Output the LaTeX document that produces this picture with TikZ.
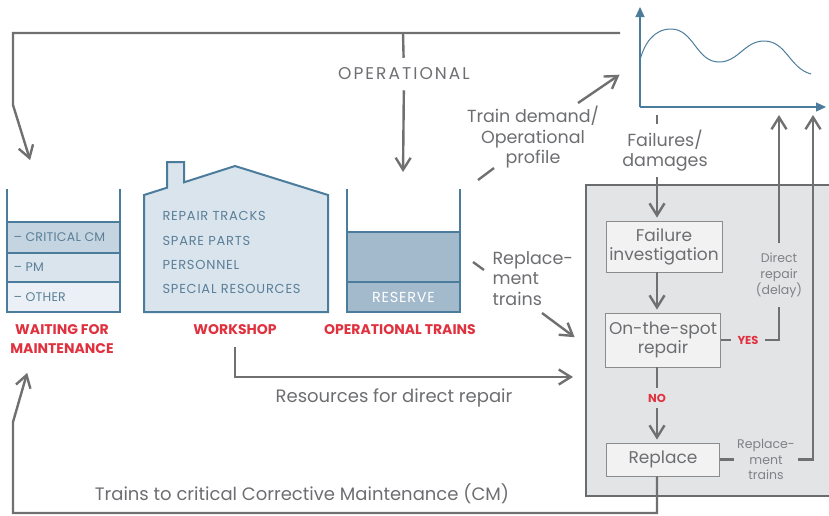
\documentclass[tikz,border=0pt]{standalone}
\usepackage{fontspec}
\setmainfont{Poppins}
\usetikzlibrary{calc}
\usetikzlibrary{positioning}
\usetikzlibrary{arrows.meta}

\definecolor{linegray}{HTML}{707070}
\definecolor{txtgray}{HTML}{6D6E71}
\definecolor{lightgray}{HTML}{808184}
\definecolor{steel}{HTML}{4B7C9B}
\definecolor{steeltxt}{HTML}{5B7F98}
\definecolor{housefill}{HTML}{D9E4ED}
\definecolor{critfill}{HTML}{C4D4E0}
\definecolor{pmfill}{HTML}{D9E4ED}
\definecolor{othfill}{HTML}{EAF0F5}
\definecolor{optrfill}{HTML}{A3B9CC}
\definecolor{alertred}{HTML}{E0313F}
\definecolor{panelfill}{HTML}{E3E4E5}
\definecolor{panelline}{HTML}{6B6C6E}
\definecolor{boxfill}{HTML}{F2F2F2}
\definecolor{boxline}{HTML}{8C8C8C}

\begin{document}
\begin{tikzpicture}[x=1pt, y=-1pt,
    gline/.style={draw=linegray, line width=2.4pt},
    flow/.style={gline, -{Straight Barb[length=12pt, width=15pt]}, shorten >=3pt},
    lbl/.style={text=txtgray, align=center, font=\fontsize{17.5}{20.5}\selectfont},
    small/.style={text=lightgray, align=center, font=\fontsize{12.5}{16}\selectfont},
    caps/.style={text=steeltxt, anchor=west, font=\fontsize{13}{15}\selectfont\addfontfeature{LetterSpace=6}},
    bandtxt/.style={caps, font=\fontsize{12.5}{15}\selectfont\addfontfeature{LetterSpace=2}},
    redlbl/.style={text=alertred, align=center, font=\fontsize{14}{19}\selectfont\bfseries},
    procbox/.style={rectangle, draw=boxline, fill=boxfill, line width=0.8pt, minimum width=113pt, align=center, text=txtgray, font=\fontsize{17}{19}\selectfont},
    wall/.style={draw=steel, line width=2pt},
    axis/.style={draw=steel, line width=1.2pt, -{Triangle[length=10pt, width=9pt]}}]
    \useasboundingbox (0,0) rectangle (829,515);

    % waiting for maintenance
    \foreach \ya/\yb/\fc/\txt [count=\i] in {222/253/critfill/{-- CRITICAL CM}, 253/282/pmfill/{-- PM}, 282/312/othfill/{-- OTHER}}
    {
        \fill[\fc] (7,\ya) rectangle (120,\yb);
        \draw[wall] (7,\ya) -- (120,\ya);
        \node[bandtxt] (band\i) at (10,{(\ya+\yb)/2}) {\txt};
    }
    \draw[wall] (7,189) -- (7,312) -- (120,312) -- (120,189);
    \node[redlbl] (waitlbl) at (62,339.5) {WAITING FOR\\MAINTENANCE};

    % workshop
    \draw[wall, fill=housefill] (144,312) -- (144,195) -- (167,187.7) -- (167,162) -- (184,162)
        -- (184,182.3) -- (235,166) -- (328,195) -- (328,312) -- cycle;
    \foreach \txt [count=\i] in {REPAIR TRACKS, SPARE PARTS, PERSONNEL, SPECIAL RESOURCES}
        \node[caps] (shop\i) at (159,{192+24.3*\i}) {\txt};
    \node[redlbl] (shoplbl) at (235,330) {WORKSHOP};

    % operational trains
    \fill[optrfill] (347,232) rectangle (460,312);
    \draw[wall] (347,189) -- (347,312) -- (460,312) -- (460,189);
    \draw[wall] (347,232) -- (460,232);
    \draw[wall] (347,282) -- (460,282);
    \node[text=white, font=\fontsize{14.5}{15}\selectfont\addfontfeature{LetterSpace=5}] (reserve) at (403.5,297) {RESERVE};
    \node[redlbl] (optrlbl) at (400,330) {OPERATIONAL TRAINS};

    % profile chart
    \coordinate (org) at (640,107);
    \draw[axis] (org) -- (640,7);
    \draw[axis] (org) -- (826,107);
    \draw[steel, line width=1pt] (640,60) to[out=75, in=180] (671,29) to[out=0, in=180] (719,62)
        to[out=0, in=180] (764,41) to[out=0, in=165] (811,74);

    % repair panel
    \draw[panelline, fill=panelfill, line width=2.5pt] (586,185) rectangle (845,496);
    \coordinate (col) at (657,0);
    \node[procbox, minimum height=51pt] (fi) at (664,246.5) {Failure\\investigation};
    \node[procbox, minimum height=54pt] (osr) at (663,340) {On-the-spot\\repair};
    \node[procbox, minimum height=33pt] (repl) at (663,459.5) {Replace};
    \node[redlbl, inner sep=6pt, font=\fontsize{11.5}{13}\selectfont\bfseries] (yes) at (748,340) {YES};
    \node[redlbl, inner sep=6pt, font=\fontsize{11.5}{13}\selectfont\bfseries] (no) at (657,398) {NO};
    \node[small, inner ysep=9pt] (direct) at (779,275) {Direct\\repair\\(delay)};
    \node[small, font=\fontsize{12.5}{15.5}\selectfont] (rtr) at (766,459.5) {Replace-\\ment\\trains};

    % labels
    \node[lbl, inner ysep=10pt, font=\fontsize{17}{20}\selectfont\addfontfeature{LetterSpace=12}] (oper) at (404,74) {OPERATIONAL};
    \node[lbl] (demand) at (533,137.5) {Train demand/\\Operational\\profile};
    \node[lbl, align=left, anchor=west] (repltxt) at (489,278.5) {Replace-\\ment\\trains};
    \node[lbl, font=\fontsize{17.5}{20}\selectfont] (fail) at (665,151) {Failures/\\damages};
    \node[lbl, font=\fontsize{18}{20}\selectfont] (res) at (394,398) {Resources for direct repair};
    \node[lbl, font=\fontsize{18}{20}\selectfont] (cmtxt) at (302,494) {Trains to critical Corrective Maintenance (CM)};

    % connector ends
    \coordinate (topR) at (620,33);
    \coordinate (topL) at (13,33);
    \coordinate (bendL) at (13,105);
    \coordinate (waitIn) at (31,163);
    \coordinate (operA) at (403,33);
    \coordinate (optrIn) at (403,175);
    \coordinate (demA) at (478,180);
    \coordinate (demB) at (494,168);
    \coordinate (demC) at (578,103);
    \coordinate (demD) at (622,73);
    \coordinate (rpA) at (473,262);
    \coordinate (rpB) at (484,270);
    \coordinate (rpC) at (542,313);
    \coordinate (rpD) at (577,339);
    \coordinate (failA) at (657,115);
    \coordinate (failB) at (657,124);
    \coordinate (failC) at (657,177);
    \coordinate (resA) at (235,347);
    \coordinate (resB) at (576,377);
    \coordinate (botL) at (13,513);
    \coordinate (bendB) at (13,422);
    \coordinate (waitOut) at (28,370);
    \coordinate (upA) at (779,112);
    \coordinate (upB) at (813,112);

    % connectors
    \draw[flow] (topR) -- (topL) -- (bendL) -- (waitIn);
    \draw[gline] (operA) -- (oper);
    \draw[flow] (oper) -- (optrIn);
    \draw[gline] (demA) -- (demB);
    \draw[flow] (demC) -- (demD);
    \draw[gline] (rpA) -- (rpB);
    \draw[flow] (rpC) -- (rpD);
    \draw[gline] (failA) -- (failB);
    \draw[flow] (failC) -- (fi.north -| col);
    \draw[flow] (fi.south -| col) -- (osr.north -| col);
    \draw[gline] (osr.south -| col) -- (no);
    \draw[flow] (no) -- (repl.north -| col);
    \draw[gline] (osr.east) -- (yes);
    \draw[gline] (yes) -| (direct);
    \draw[flow] (direct) -- (upA);
    \draw[gline] (repl.east) -- (rtr);
    \draw[flow] (rtr) -| (upB);
    \draw[flow] (resA) |- (resB);
    \draw[flow] (repl.south -| col) |- (botL) -- (bendB) -- (waitOut);
\end{tikzpicture}
\end{document}
